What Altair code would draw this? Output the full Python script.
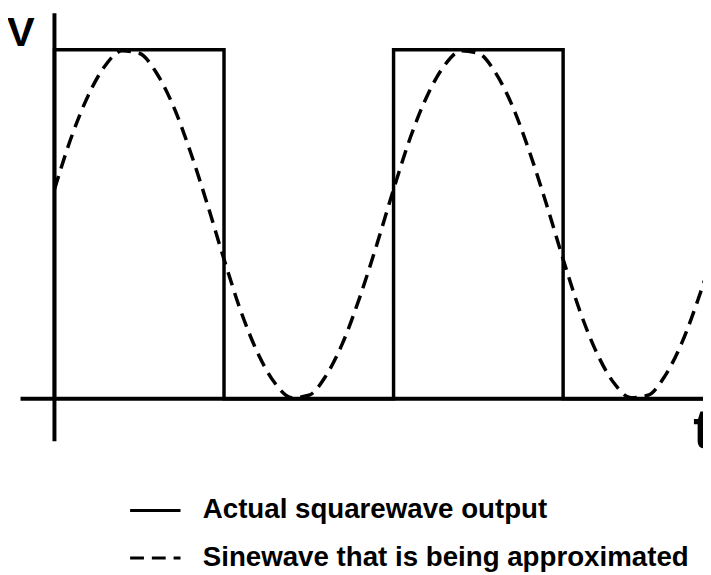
import altair as alt
import pandas as pd

series = ["Actual squarewave output", "Sinewave that is being approximated"]

# square wave corners (time, level)
sq_t = [0, 0, 1, 1, 2, 2, 3, 3, 3.9]
sq_v = [0, 1, 1, 0, 0, 1, 1, 0, 0]

# dashed sine wave samples
sine_t = [0.0, 0.1, 0.2, 0.3, 0.4, 0.5, 0.6, 0.7, 0.8, 0.9,
          1.0, 1.1, 1.2, 1.3, 1.4, 1.5, 1.6, 1.7, 1.8, 1.9,
          2.0, 2.1, 2.2, 2.3, 2.4, 2.5, 2.6, 2.7, 2.8, 2.9,
          3.0, 3.1, 3.2, 3.3, 3.4, 3.5, 3.6, 3.7, 3.8, 3.9]
sine_v = [0.60, 0.75, 0.87, 0.955, 0.997, 0.99, 0.935, 0.84, 0.71, 0.56,
          0.40, 0.25, 0.13, 0.045, 0.003, 0.01, 0.065, 0.16, 0.29, 0.44,
          0.60, 0.75, 0.87, 0.955, 0.997, 0.99, 0.935, 0.84, 0.71, 0.56,
          0.40, 0.25, 0.13, 0.045, 0.003, 0.01, 0.065, 0.16, 0.29, 0.44]

# axis lines (time axis and voltage axis extents)
t_axis = [-0.2, 3.9]
v_axis = [-0.122, 1.105]

labels = ["V", "t"]

sq_df = pd.DataFrame({"t": sq_t, "v": sq_v, "i": range(len(sq_t)), "series": series[0]})
sine_df = pd.DataFrame({"t": sine_t, "v": sine_v, "i": range(len(sine_t)), "series": series[1]})

xs = alt.Scale(domain=[-0.274, 3.825], nice=False, zero=False)
ys = alt.Scale(domain=[-0.4958, 1.1105], nice=False, zero=False)

dash = alt.StrokeDash(
    "series:N",
    scale=alt.Scale(domain=series, range=[[1, 0], [14, 8]]),
    legend=alt.Legend(
        orient="none", legendX=122, legendY=478, title=None,
        symbolType="stroke", symbolSize=2600, symbolStrokeWidth=3,
        symbolStrokeColor="black", labelFont="Liberation Sans",
        labelFontSize=28, labelFontWeight="bold", labelColor="black",
        labelOffset=21, rowPadding=7, padding=0, labelLimit=700,
    ),
)

square = alt.Chart(sq_df).mark_line(color="black", strokeWidth=3.5).encode(
    x=alt.X("t:Q", scale=xs, axis=None),
    y=alt.Y("v:Q", scale=ys, axis=None),
    order="i:Q",
    strokeDash=dash,
)

sine = alt.Chart(sine_df).mark_line(color="black", strokeWidth=3.5, interpolate="monotone").encode(
    x=alt.X("t:Q", scale=xs, axis=None),
    y=alt.Y("v:Q", scale=ys, axis=None),
    order="i:Q",
    strokeDash=dash,
)

h_axis = alt.Chart(pd.DataFrame({"t": [t_axis[0]], "t2": [t_axis[1]], "v": [0]})).mark_rule(
    color="black", strokeWidth=4
).encode(x=alt.X("t:Q", scale=xs, axis=None), x2="t2:Q", y=alt.Y("v:Q", scale=ys, axis=None))

v_axis_rule = alt.Chart(pd.DataFrame({"t": [0], "v": [v_axis[0]], "v2": [v_axis[1]]})).mark_rule(
    color="black", strokeWidth=4
).encode(x=alt.X("t:Q", scale=xs, axis=None), y=alt.Y("v:Q", scale=ys, axis=None), y2="v2:Q")

v_label = alt.Chart(pd.DataFrame({"t": [-0.198], "v": [1.048], "s": [labels[0]]})).mark_text(
    font="Liberation Sans", fontWeight="bold", fontSize=42, align="center", baseline="middle", color="black"
).encode(x=alt.X("t:Q", scale=xs, axis=None), y=alt.Y("v:Q", scale=ys, axis=None), text="s:N")

t_label = alt.Chart(pd.DataFrame({"t": [3.767], "v": [-0.1416], "s": [labels[1]]})).mark_text(
    font="Liberation Sans", fontWeight="bold", fontSize=56, align="left", baseline="alphabetic", color="black"
).encode(x=alt.X("t:Q", scale=xs, axis=None), y=alt.Y("v:Q", scale=ys, axis=None), text="s:N")

chart = alt.layer(h_axis, v_axis_rule, square, sine, v_label, t_label).properties(
    width=703, height=567, padding=0, autosize=alt.AutoSizeParams(type="none"),
    background="white",
).configure_view(stroke=None)

chart.save("out.html", embed_options={"renderer": "svg", "actions": False})
